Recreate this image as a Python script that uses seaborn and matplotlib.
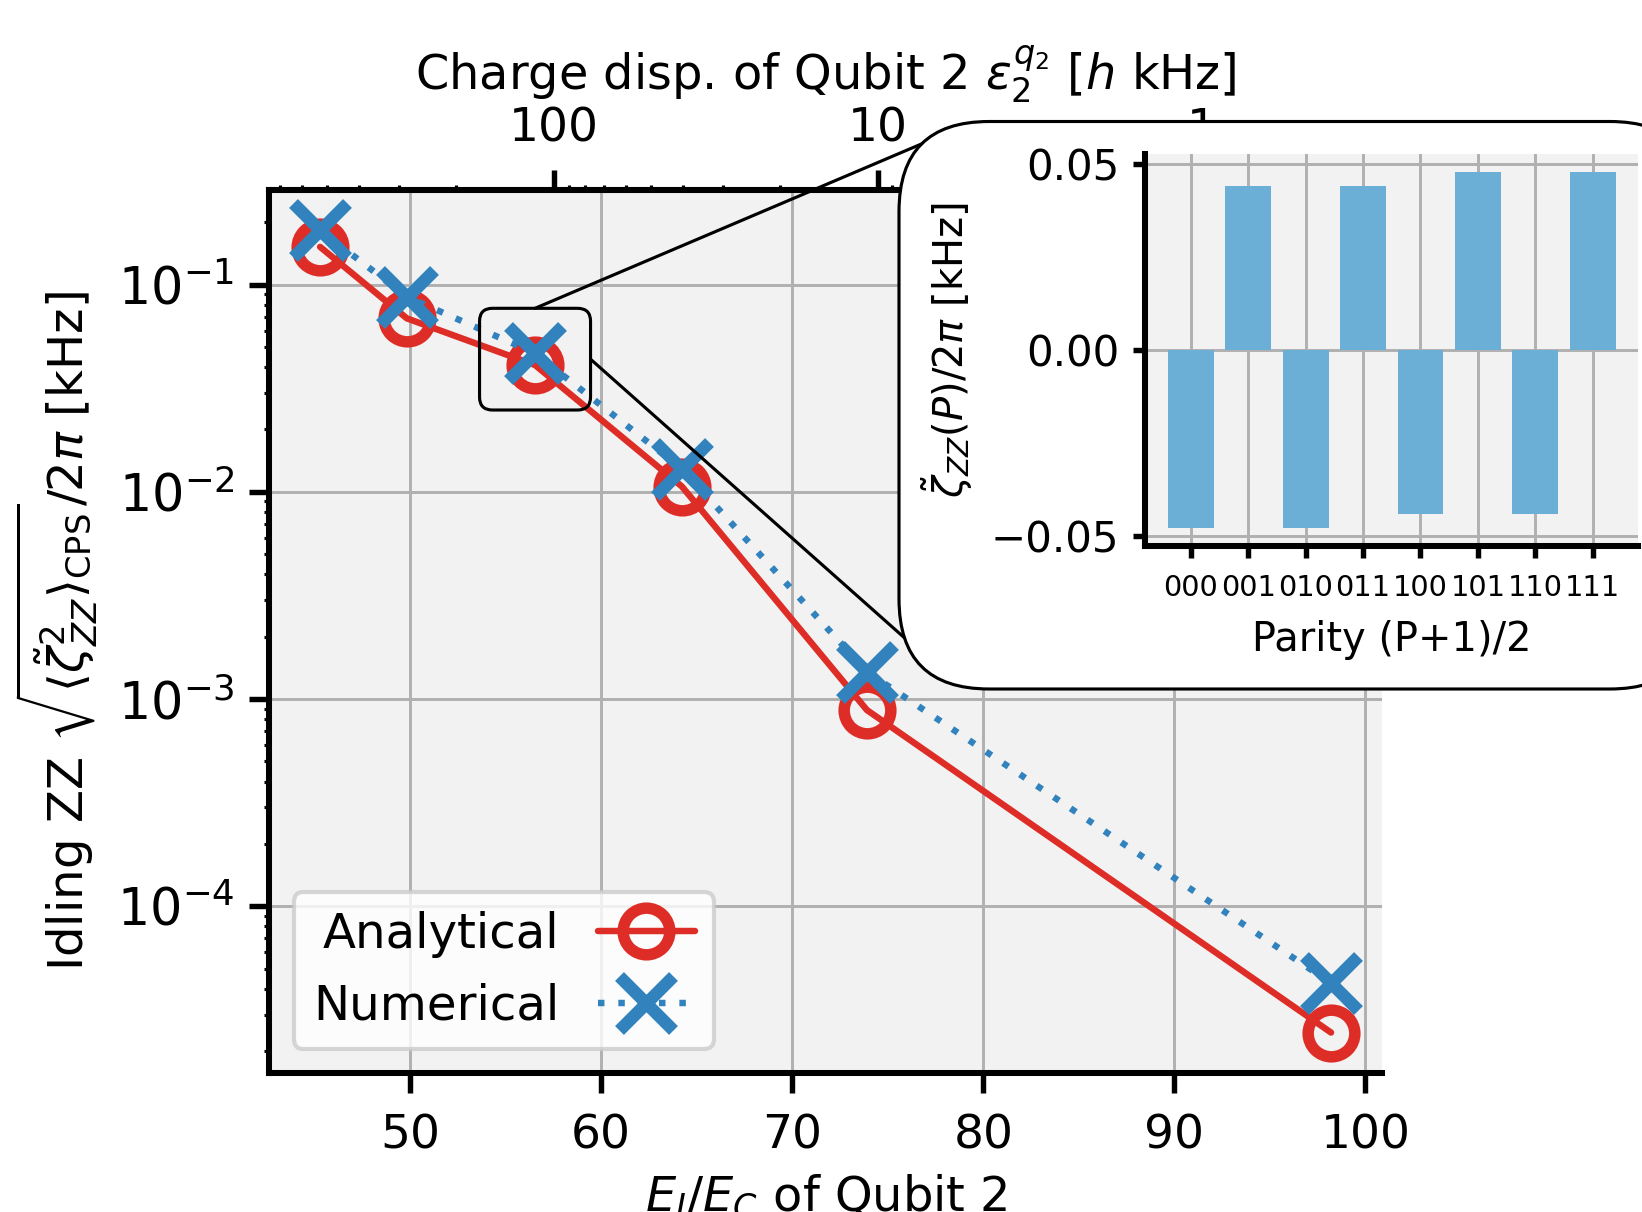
import numpy as np
import matplotlib
matplotlib.use("Agg")
import matplotlib.pyplot as plt
import seaborn as sns
from matplotlib.patches import FancyBboxPatch
from matplotlib.lines import Line2D

# ---------------- data ----------------
ej_ec = [45.29, 49.83, 56.54, 64.23, 73.91, 98.20]
zz_analytical = [0.152, 0.0687, 0.0409, 0.0106, 8.85e-4, 2.46e-5]
zz_numerical = [0.183, 0.0873, 0.0466, 0.01288, 1.355e-3, 4.26e-5]

parity_labels = ["000", "001", "010", "011", "100", "101", "110", "111"]
parity_zz = [-0.0479, 0.0442, -0.0479, 0.0442, -0.0442, 0.0479, -0.0442, 0.0479]

x_ticks = [50, 60, 70, 80, 90, 100]
disp_ticks = [1, 10, 100]
disp_ticklabels = ["1", "10", "100"]
inset_yticks = [-0.05, 0.0, 0.05]

# mapping E_J/E_C -> charge dispersion
DISP_REF_EJEC = 57.52        # E_J/E_C where dispersion = 100 kHz
DISP_EJEC_PER_DECADE = 16.95  # E_J/E_C units per decade of dispersion
ZOOM_INDEX = 2               # point that is magnified in the inset

RED = "#de2d26"
BLUE = "#3182bd"
BAR = "#6baed6"
BG = "#f2f2f2"
GRID = "#b0b0b0"


def ejec_to_disp(x):
    x = np.asarray(x, dtype=float)
    return 100.0 * 10.0 ** (-(x - DISP_REF_EJEC) / DISP_EJEC_PER_DECADE)


def disp_to_ejec(d):
    d = np.asarray(d, dtype=float)
    with np.errstate(divide="ignore", invalid="ignore"):
        return DISP_REF_EJEC - DISP_EJEC_PER_DECADE * np.log10(d / 100.0)


sns.set_style("ticks", {"axes.facecolor": BG, "axes.edgecolor": "black",
                        "grid.color": GRID, "text.color": "black",
                        "axes.labelcolor": "black", "xtick.color": "black",
                        "ytick.color": "black"})
plt.rcParams["font.family"] = ["DejaVu Sans"]
plt.rcParams["mathtext.fontset"] = "dejavusans"

DPI = 300
W, H = 1642, 1212
fig = plt.figure(figsize=(W / DPI, H / DPI), dpi=DPI)
fig.patch.set_facecolor("white")

# ---------------- main axes ----------------
ax = fig.add_axes([0.1641, 0.1147, 0.6776, 0.7285])
ax.set_yscale("log")

sns.lineplot(x=ej_ec, y=zz_analytical, ax=ax, color=RED, linewidth=1.55,
             marker="o", markersize=11.2, markerfacecolor="none",
             markeredgecolor=RED, markeredgewidth=2.75, label="Analytical",
             zorder=3)
sns.lineplot(x=ej_ec, y=zz_numerical, ax=ax, color=BLUE, linewidth=1.55,
             linestyle=(0, (1, 2.15)), marker="x", markersize=13,
             markeredgecolor=BLUE, markeredgewidth=3.0, label="Numerical",
             zorder=4)

ax.set_xlim(42.64, 100.87)
ax.set_ylim(1.57e-5, 0.2858)
ax.set_xticks(x_ticks)
ax.set_facecolor(BG)
ax.grid(True, which="major", color=GRID, linewidth=0.7)
ax.set_axisbelow(True)
ax.spines["right"].set_visible(False)
for s in ("left", "bottom", "top"):
    ax.spines[s].set_linewidth(1.45)
    ax.spines[s].set_color("black")
ax.tick_params(axis="both", which="major", direction="out", length=4.9,
               width=1.3, labelsize=11.3, top=False, right=False,
               colors="black")
ax.tick_params(axis="x", which="major", pad=4.8)
ax.tick_params(axis="y", which="major", labelsize=12.2)
ax.tick_params(axis="both", which="minor", direction="out", length=1.3,
               width=0.75, top=False, right=False, colors="black")
ax.tick_params(axis="x", which="minor", bottom=False)

ax.set_xlabel(r"$E_J/E_C$ of Qubit 2", fontsize=11.5, color="black",
              labelpad=3.2)
ax.set_ylabel(r"Idling ZZ $\sqrt{\langle\tilde{\zeta}_{ZZ}^2\rangle_{\rm CPS}}/2\pi$ [kHz]",
              fontsize=11.6, color="black")

leg = ax.legend(loc="lower left", markerfirst=False, fontsize=11.6,
                frameon=True)
leg.get_frame().set_facecolor("white")
for t in leg.get_texts():
    t.set_color("black")

# ---------------- top axis: charge dispersion ----------------
secax = ax.secondary_xaxis("top", functions=(ejec_to_disp, disp_to_ejec))
secax.set_ticks(disp_ticks, labels=disp_ticklabels)
minor_disp = [m * 10.0 ** e for e in (-1, 0, 1, 2) for m in range(2, 10)]
secax.set_ticks(minor_disp, minor=True)
secax.tick_params(which="major", direction="out", length=4.9, width=1.3,
                  labelsize=11.3, colors="black", pad=4.3)
secax.tick_params(which="minor", direction="out", length=1.3, width=0.75,
                  colors="black")
secax.spines["top"].set_linewidth(1.45)
secax.set_xlabel(r"Charge disp. of Qubit 2 $\varepsilon_2^{q_2}$ [$h$ kHz]",
                 fontsize=11.5, color="black")

# ---------------- zoom marker & connectors ----------------
cx_px, cy_px = ax.transData.transform(
    (ej_ec[ZOOM_INDEX],
     np.sqrt(zz_analytical[ZOOM_INDEX] * zz_numerical[ZOOM_INDEX])))
rw, rh = 111.0, 101.7
rect = FancyBboxPatch(((cx_px - rw / 2) / DPI, (cy_px - rh / 2) / DPI),
                      rw / DPI, rh / DPI,
                      boxstyle=f"round,pad=0,rounding_size={13 / DPI}",
                      transform=fig.dpi_scale_trans, facecolor="none",
                      edgecolor="black", linewidth=0.75, zorder=0.6)
fig.add_artist(rect)

# end points on the inset box (pixel coords from top-left)
l1_end = (939.0, 136.5)
l2_end = (912.0, 644.5)
line1 = Line2D([cx_px / DPI, l1_end[0] / DPI],
               [(cy_px + rh / 2) / DPI, (H - l1_end[1]) / DPI],
               transform=fig.dpi_scale_trans, color="black", linewidth=0.75,
               zorder=0.5)
line2 = Line2D([(cx_px + rw / 2) / DPI, l2_end[0] / DPI],
               [cy_px / DPI, (H - l2_end[1]) / DPI],
               transform=fig.dpi_scale_trans, color="black", linewidth=0.75,
               zorder=0.5)
fig.add_artist(line1)
fig.add_artist(line2)

# rounded white box holding the inset
bx0, bx1, by_top, by_bot = 899.0, 1700.0, 121.5, 689.0
box = FancyBboxPatch((bx0 / DPI, (H - by_bot) / DPI), (bx1 - bx0) / DPI,
                     (by_bot - by_top) / DPI,
                     boxstyle=f"round,pad=0,rounding_size={90 / DPI}",
                     transform=fig.dpi_scale_trans, facecolor="white",
                     edgecolor="black", linewidth=0.75, zorder=1)
fig.add_artist(box)

# ---------------- inset bar chart ----------------
axin = fig.add_axes([0.6975, 0.5495, 0.3002, 0.3234])
axin.set_zorder(2)
sns.barplot(x=parity_labels, y=parity_zz, color=BAR, saturation=1,
            width=0.8, ax=axin, linewidth=0, edgecolor="none")
axin.set_xlim(-0.79, 7.79)
axin.set_ylim(-0.0527, 0.0527)
axin.set_yticks(inset_yticks)
axin.set_facecolor(BG)
axin.grid(True, color=GRID, linewidth=0.7)
axin.set_axisbelow(True)
axin.spines["top"].set_visible(False)
axin.spines["right"].set_visible(False)
for s in ("left", "bottom"):
    axin.spines[s].set_linewidth(1.45)
    axin.spines[s].set_color("black")
axin.tick_params(axis="both", direction="out", length=2.8, width=1.3,
                 colors="black")
axin.tick_params(axis="x", labelsize=6.9, pad=4.0)
axin.tick_params(axis="y", labelsize=10.1)
axin.set_xlabel("Parity (P+1)/2", fontsize=9.6, color="black", labelpad=4.2)
axin.set_ylabel(r"$\tilde{\zeta}_{ZZ}(P)/2\pi$ [kHz]", fontsize=9.6,
                color="black", labelpad=4.0)

fig.savefig("out.png", dpi=DPI)
